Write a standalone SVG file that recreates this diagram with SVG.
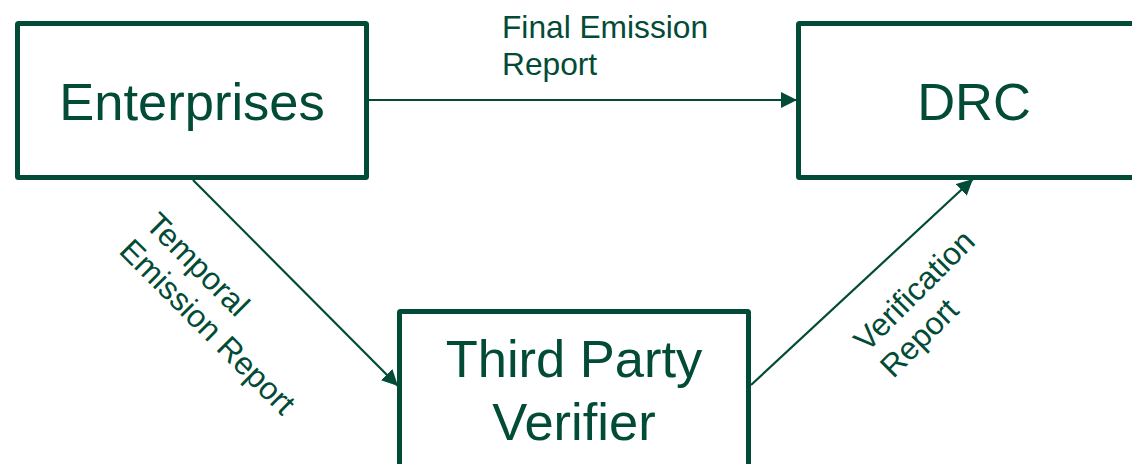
<svg xmlns="http://www.w3.org/2000/svg" width="1132" height="464" viewBox="0 0 1132 464">
  <style>
    .box { fill: #ffffff; stroke: #024b36; stroke-width: 5; }
    .label { fill: #024b36; font-family: "Liberation Sans", Arial, sans-serif; font-size: 52.5px; text-anchor: middle; }
    .edge { stroke: #024b36; stroke-width: 2.2; fill: none; marker-end: url(#arrow); }
    .note { fill: #024b36; font-family: "Liberation Sans", Arial, sans-serif; font-size: 31.7px; }
  </style>
  <defs>
    <marker id="arrow" markerUnits="userSpaceOnUse" markerWidth="16" markerHeight="16" viewBox="0 0 14 14" refX="14" refY="7" orient="auto">
      <path d="M0,0 L14,7 L0,14 Z" fill="#024b36"/>
    </marker>
  </defs>
  <rect width="1132" height="464" fill="#ffffff"/>

  <!-- connectors and their labels -->
  <g id="connectors">
    <line class="edge" x1="369" y1="100" x2="797" y2="100"/>
    <line class="edge" x1="193" y1="180" x2="398" y2="386"/>
    <line class="edge" x1="751" y1="385" x2="973" y2="179"/>
    <text class="note" x="502" y="38">Final Emission<tspan x="502" dy="37">Report</tspan></text>
    <text class="note" transform="translate(144 226) rotate(45)">Temporal<tspan x="0" dy="37">Emission Report</tspan></text>
    <text class="note" transform="translate(867 353) rotate(-45)">Verification<tspan x="0" dy="37">Report</tspan></text>
  </g>

  <g id="enterprises">
    <rect class="box" x="17.5" y="23.5" width="349" height="154" rx="1"/>
    <text class="label" x="192" y="120">Enterprises</text>
  </g>

  <g id="drc">
    <rect class="box" x="798.5" y="23.5" width="351" height="154" rx="1"/>
    <text class="label" x="974" y="120">DRC</text>
  </g>

  <g id="third-party-verifier">
    <rect class="box" x="399.5" y="311.5" width="349" height="160" rx="1"/>
    <text class="label" x="574" y="377">Third Party<tspan x="574" dy="63">Verifier</tspan></text>
  </g>
</svg>
